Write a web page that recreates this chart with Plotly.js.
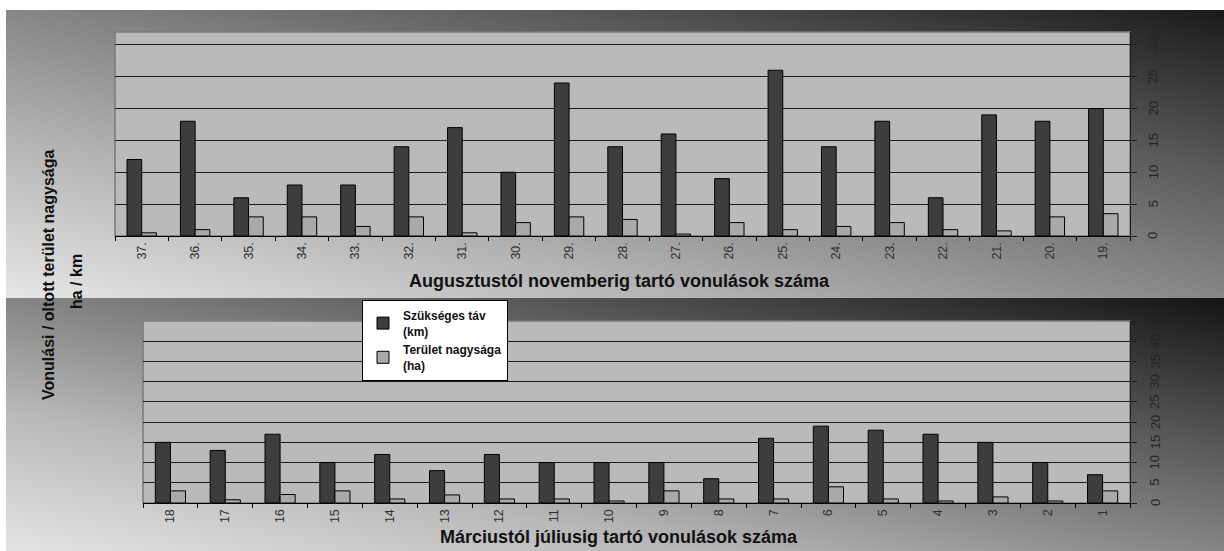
<!DOCTYPE html>
<html>
<head>
<meta charset="utf-8">
<script src="https://cdn.plot.ly/plotly-3.0.1.min.js"></script>
<style>
  html, body { margin: 0; padding: 0; background: #ffffff; }
  #wrap { position: relative; width: 1224px; height: 551px; overflow: hidden; background: #ffffff; }
  .panel { position: absolute; left: 6px; right: 0; }
  #bgTop { top: 10px; height: 288px;
    background: linear-gradient(to top right, #e6e6e6 0%, #b4b4b4 28%, #878787 50%, #5a5a5a 72%, #1a1a1a 100%); }
  #bgBottom { top: 298px; height: 253px;
    background: linear-gradient(to top right, #e4e4e4 0%, #b8b8b8 28%, #858585 50%, #555555 72%, #141414 100%); }
  #chart { position: absolute; left: 0; top: 0; width: 1224px; height: 551px; }
</style>
</head>
<body>
<div id="wrap">
  <div class="panel" id="bgTop"></div>
  <div class="panel" id="bgBottom"></div>
  <div id="chart"></div>
</div>
<script>
// ---- data ----
const categoriesTop = ["37.","36.","35.","34.","33.","32.","31.","30.","29.","28.","27.","26.","25.","24.","23.","22.","21.","20.","19."];
const tavTop        = [12, 18, 6, 8, 8, 14, 17, 10, 24, 14, 16, 9, 26, 14, 18, 6, 19, 18, 20];
const teruletTop    = [0.5, 1, 3, 3, 1.5, 3, 0.5, 2.1, 3, 2.6, 0.3, 2.1, 1, 1.5, 2.1, 1, 0.8, 3, 3.5];

const categoriesBottom = ["18","17","16","15","14","13","12","11","10","9","8","7","6","5","4","3","2","1"];
const tavBottom        = [15, 13, 17, 10, 12, 8, 12, 10, 10, 10, 6, 16, 19, 18, 17, 15, 10, 7];
const teruletBottom    = [3, 0.8, 2.1, 3, 1, 2, 1, 1, 0.5, 3, 1, 1, 4, 1, 0.5, 1.5, 0.5, 3];

const yTicksTop    = [0, 5, 10, 15, 20, 25, 30];
const yTicksBottom = [0, 5, 10, 15, 20, 25, 30, 35, 40, 45];

const seriesNames = ["Szükséges táv<br>(km)", "Terület nagysága<br>(ha)"];
const xTitleTop = "Augusztustól novemberig tartó vonulások száma";
const xTitleBottom = "Márciustól júliusig tartó vonulások száma";
const yTitleLine1 = "Vonulási / oltott terület nagysága";
const yTitleLine2 = "ha / km";

// ---- styles ----
const FONT = "Liberation Sans, Arial, sans-serif";
const darkFill = "#3d3d3d";
const lightFill = "#a9a9a9";
const outline = {color: "#000000", width: 1};

const traces = [
  {type: "bar", x: categoriesTop, y: tavTop, name: seriesNames[0], xaxis: "x", yaxis: "y",
   marker: {color: darkFill, line: outline}, legendgroup: "a"},
  {type: "bar", x: categoriesTop, y: teruletTop, name: seriesNames[1], xaxis: "x", yaxis: "y",
   marker: {color: lightFill, line: outline}, legendgroup: "b"},
  {type: "bar", x: categoriesBottom, y: tavBottom, name: seriesNames[0], xaxis: "x2", yaxis: "y2",
   marker: {color: darkFill, line: outline}, legendgroup: "a", showlegend: false},
  {type: "bar", x: categoriesBottom, y: teruletBottom, name: seriesNames[1], xaxis: "x2", yaxis: "y2",
   marker: {color: lightFill, line: outline}, legendgroup: "b", showlegend: false}
];

const W = 1224, H = 551;
const px = v => v / W;
const py = v => 1 - v / H;

const xCommon = {
  type: "category", showgrid: false, zeroline: false,
  showline: true, linecolor: "#000000", linewidth: 1.2,
  ticks: "outside", ticklen: 4, tickcolor: "#000000", tickson: "boundaries",
  tickangle: -90,
  tickfont: {family: FONT, size: 12.5, color: "#2e2e2e"},
  fixedrange: true
};
const yCommon = {
  side: "right", showgrid: true, gridcolor: "#1c1c1c", gridwidth: 1.2,
  zeroline: false, showline: true, linecolor: "#1c1c1c", linewidth: 1.2,
  ticks: "outside", ticklen: 6, tickcolor: "#1c1c1c",
  showticklabels: false,
  tickmode: "array", fixedrange: true
};

// right-hand value labels, placed through the y axes' own scales
const tickLabelFont = {family: FONT, size: 13, color: "#242424"};
const yLabelAnns = [];
yTicksTop.forEach(v => yLabelAnns.push({
  text: String(v), xref: "paper", yref: "y", x: px(1153), y: v, textangle: -90,
  xanchor: "center", yanchor: "middle", showarrow: false, font: tickLabelFont}));
yTicksBottom.forEach(v => yLabelAnns.push({
  text: String(v), xref: "paper", yref: "y2", x: px(1155), y: v, textangle: -90,
  xanchor: "center", yanchor: "middle", showarrow: false, font: tickLabelFont}));

const layout = {
  width: W, height: H,
  margin: {l: 0, r: 0, t: 0, b: 0},
  paper_bgcolor: "rgba(0,0,0,0)",
  plot_bgcolor: "#bababa",
  barmode: "group", bargap: 0.45, bargroupgap: 0,
  showlegend: true,
  legend: {
    x: px(362), y: py(300), xanchor: "left", yanchor: "top",
    bgcolor: "#ffffff", bordercolor: "#000000", borderwidth: 1,
    font: {family: FONT, size: 12, color: "#111111", weight: "bold"},
    traceorder: "normal", itemwidth: 30, tracegroupgap: 6
  },
  xaxis: Object.assign({}, xCommon, {domain: [px(115), px(1130)], anchor: "y"}),
  yaxis: Object.assign({}, yCommon, {domain: [py(236), py(32)], anchor: "x", range: [0, 32],
    tickvals: yTicksTop}),
  xaxis2: Object.assign({}, xCommon, {domain: [px(143), px(1130)], anchor: "y2"}),
  yaxis2: Object.assign({}, yCommon, {domain: [py(503), py(321)], anchor: "x2", range: [0, 45],
    tickvals: yTicksBottom}),
  shapes: [
    {type: "rect", xref: "x domain", yref: "y domain", x0: 0, x1: 1, y0: 0, y1: 1,
     line: {color: "#7a7a7a", width: 1.5}, layer: "below"},
    {type: "rect", xref: "x2 domain", yref: "y2 domain", x0: 0, x1: 1, y0: 0, y1: 1,
     line: {color: "#7a7a7a", width: 1.5}, layer: "below"}
  ],
  annotations: [
    {text: xTitleTop, xref: "paper", yref: "paper", x: px(619), y: py(281),
     xanchor: "center", yanchor: "middle",
     showarrow: false, font: {family: FONT, size: 18, color: "#111111", weight: "bold"}},
    {text: xTitleBottom, xref: "paper", yref: "paper", x: px(619), y: py(537),
     xanchor: "center", yanchor: "middle",
     showarrow: false, font: {family: FONT, size: 18, color: "#111111", weight: "bold"}},
    {text: yTitleLine1, xref: "paper", yref: "paper", x: px(48), y: py(275), textangle: -90,
     xanchor: "center", yanchor: "middle",
     showarrow: false, font: {family: FONT, size: 16, color: "#111111", weight: "bold"}},
    {text: yTitleLine2, xref: "paper", yref: "paper", x: px(76), y: py(282), textangle: -90,
     xanchor: "center", yanchor: "middle",
     showarrow: false, font: {family: FONT, size: 16, color: "#111111", weight: "bold"}}
  ].concat(yLabelAnns)
};

Plotly.newPlot("chart", traces, layout, {displayModeBar: false, staticPlot: true});
</script>
</body>
</html>
